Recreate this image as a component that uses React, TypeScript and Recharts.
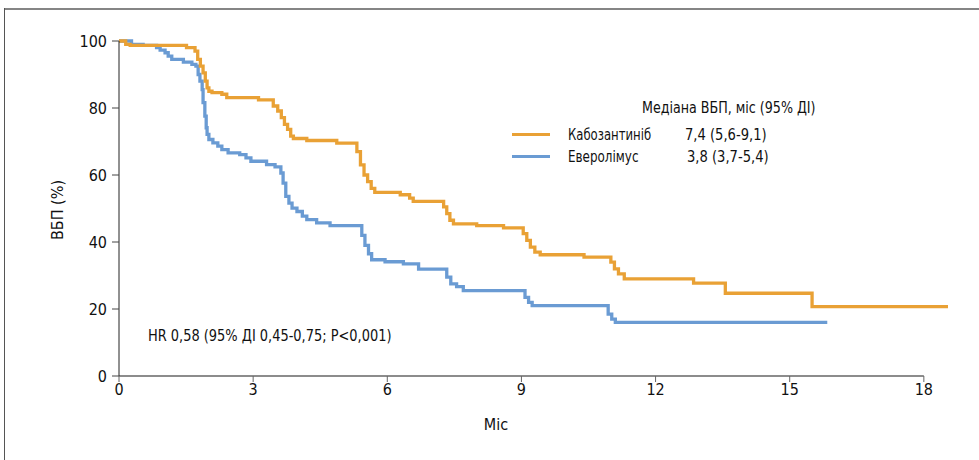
import React from 'react';
import { LineChart, Line, XAxis, YAxis, ReferenceLine } from 'recharts';

const cabozTimes = [0, 0.15, 0.25, 1.51, 1.7, 1.76, 1.82, 1.88, 1.93, 1.97, 2.01, 2.08, 2.3, 2.41, 3.12, 3.45, 3.55, 3.63, 3.7, 3.77, 3.84, 3.9, 4.2, 4.87, 5.32, 5.4, 5.48, 5.56, 5.64, 5.72, 6.29, 6.5, 6.58, 7.26, 7.33, 7.4, 7.48, 8.0, 8.6, 9.04, 9.12, 9.2, 9.3, 9.42, 10.4, 11.0, 11.08, 11.17, 11.3, 12.85, 13.56, 15.5, 18.54];
const cabozSurv = [100, 99, 98.7, 98, 97, 94.5, 92.5, 90.5, 88, 86, 85, 84.6, 84.1, 83.1, 82.4, 80.6, 79.1, 77.1, 75.1, 73.6, 71.6, 70.9, 70.3, 69.5, 67, 63, 60, 58, 56, 54.8, 54.1, 53.1, 52.1, 50.5, 48.5, 46.5, 45.4, 44.9, 44.2, 42.5, 40.5, 38.5, 37, 36.2, 35.5, 34, 32, 30.5, 29, 27.7, 24.7, 20.7, 20.7];

const everoTimes = [0, 0.28, 0.54, 0.84, 0.92, 1.03, 1.1, 1.18, 1.44, 1.63, 1.72, 1.77, 1.81, 1.86, 1.88, 1.92, 1.95, 1.97, 2.01, 2.1, 2.21, 2.3, 2.44, 2.7, 2.84, 2.95, 3.3, 3.49, 3.62, 3.67, 3.73, 3.8, 3.87, 3.98, 4.1, 4.2, 4.42, 4.72, 5.43, 5.5, 5.58, 5.65, 5.95, 6.36, 6.7, 7.33, 7.42, 7.55, 7.7, 9.08, 9.16, 9.24, 10.94, 11.02, 11.1, 15.84];
const everoSurv = [100, 99, 98.7, 98, 97.3, 96.5, 95.5, 94.5, 93.7, 93, 92.5, 90, 88, 85.5, 81.6, 77.6, 74.1, 72.1, 70.6, 69.6, 68.6, 67.6, 66.6, 66.1, 65.1, 64.1, 63.1, 62.4, 60.6, 57.6, 53.6, 51.6, 50.1, 49.1, 47.7, 46.7, 45.7, 44.9, 42, 39, 36.5, 34.7, 34.1, 33.5, 31.9, 29.5, 27.5, 26.7, 25.5, 23.5, 22, 21, 18.5, 17, 16, 16];

const xTicks = [0, 3, 6, 9, 12, 15, 18];
const yTicks = [0, 20, 40, 60, 80, 100];

const seriesNames = ['Кабозантиніб', 'Еверолімус'];
const seriesMedians = ['7,4 (5,6-9,1)', '3,8 (3,7-5,4)'];
const legendTitle = 'Медіана ВБП, міс (95% ДІ)';
const hrText = 'HR 0,58 (95% ДІ 0,45-0,75; P<0,001)';
const xTitle = 'Міс';
const yTitle = 'ВБП (%)';

const cabozData = cabozTimes.map((t, i) => ({ t, s: cabozSurv[i] }));
const everoData = everoTimes.map((t, i) => ({ t, s: everoSurv[i] }));

const ORANGE = '#E9A135';
const BLUE = '#6A9BD3';
const FONT = "'DejaVu Sans Condensed', 'Liberation Sans', sans-serif";

export default function App() {
  const abs = (s: React.CSSProperties, sx: number): React.CSSProperties => ({
    position: 'absolute', fontFamily: FONT, color: '#111', whiteSpace: 'nowrap', fontSize: 16,
    transformOrigin: 'left center', transform: `translateY(-50%) scaleX(${sx})`, ...s,
  });
  return (
    <div style={{ position: 'absolute', left: 0, top: 0, width: 979, height: 460, background: '#fff', overflow: 'hidden' }}>
      <div style={{ position: 'absolute', left: 4, top: 8, right: 0, height: 2, background: '#858585' }} />
      <div style={{ position: 'absolute', left: 4, top: 8, bottom: 0, width: 1, background: '#555' }} />
      <div style={{ position: 'absolute', left: 0, top: 0 }}>
        <LineChart width={979} height={460} margin={{ top: 41, right: 31, bottom: 54, left: 59 }}>
          <XAxis
            type="number"
            dataKey="t"
            domain={[0, 18.54]}
            ticks={xTicks}
            allowDuplicatedCategory={false}
            axisLine={false}
            tickLine={{ stroke: '#666' }}
            tickSize={6}
            tickMargin={2}
            height={30}
            tick={{ fontSize: 16, fill: '#111', fontFamily: FONT }}
          />
          <YAxis
            type="number"
            domain={[0, 100]}
            ticks={yTicks}
            width={60}
            axisLine={{ stroke: '#222' }}
            tickLine={{ stroke: '#444' }}
            tickSize={7}
            tickMargin={5}
            tick={{ fontSize: 16, fill: '#111', fontFamily: FONT }}
          />
          <ReferenceLine segment={[{ x: 0, y: 0 }, { x: 18, y: 0 }]} stroke="#666" strokeWidth={1.5} />
          <Line data={everoData} dataKey="s" type="stepAfter" stroke={BLUE} strokeWidth={3.3} dot={false} isAnimationActive={false} />
          <Line data={cabozData} dataKey="s" type="stepAfter" stroke={ORANGE} strokeWidth={3.3} dot={false} isAnimationActive={false} />
        </LineChart>
      </div>
      <div style={{ position: 'absolute', left: 57, top: 210, transform: 'translate(-50%, -50%) rotate(-90deg)', fontSize: 16, fontFamily: FONT, color: '#111', whiteSpace: 'nowrap' }}>{yTitle}</div>
      <div style={{ position: 'absolute', left: 496, top: 424, transform: 'translate(-50%, -50%)', fontSize: 16, fontFamily: FONT, color: '#111', whiteSpace: 'nowrap' }}>{xTitle}</div>
      <div style={abs({ left: 148, top: 335 }, 0.9)}>{hrText}</div>
      <div style={abs({ left: 642, top: 107 }, 0.88)}>{legendTitle}</div>
      <div style={{ position: 'absolute', left: 512, top: 133, width: 38, height: 3, background: ORANGE }} />
      <div style={{ position: 'absolute', left: 512, top: 155, width: 38, height: 3, background: BLUE }} />
      <div style={abs({ left: 568, top: 134 }, 0.81)}>{seriesNames[0]}</div>
      <div style={abs({ left: 685, top: 134 }, 0.91)}>{seriesMedians[0]}</div>
      <div style={abs({ left: 568, top: 156 }, 0.83)}>{seriesNames[1]}</div>
      <div style={abs({ left: 687, top: 156 }, 0.91)}>{seriesMedians[1]}</div>
    </div>
  );
}
